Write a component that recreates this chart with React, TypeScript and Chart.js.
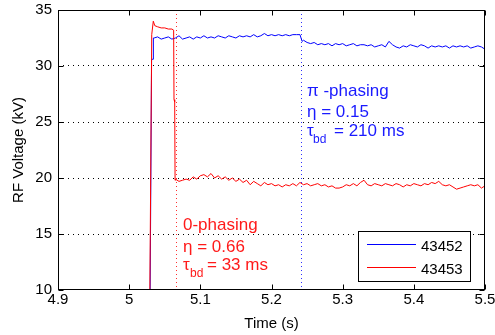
import React, { useEffect, useRef } from "react";
import { Chart, registerables } from "chart.js";

Chart.register(...registerables);

// ---------- data ----------
const xTickValues = [4.9, 5.0, 5.1, 5.2, 5.3, 5.4, 5.5];
const yTickValues = [10, 15, 20, 25, 30, 35];

const seriesNames = ["43452", "43453"];

// shot 43452 (blue, pi-phasing)
const blueT = [
  5.029, 5.0315, 5.0338, 5.034,
  5.035, 5.04, 5.045, 5.05, 5.055, 5.06, 5.065, 5.07, 5.075, 5.08,
  5.085, 5.09, 5.095, 5.1, 5.105, 5.11, 5.115, 5.12, 5.125, 5.13,
  5.135, 5.14, 5.145, 5.15, 5.155, 5.16, 5.165, 5.17, 5.175, 5.18,
  5.185, 5.19, 5.195, 5.2, 5.205, 5.21, 5.215, 5.22, 5.225, 5.23,
  5.235, 5.24,
  5.243,
  5.245, 5.25, 5.255, 5.26, 5.265, 5.27, 5.275, 5.28, 5.285, 5.29,
  5.295, 5.3, 5.305, 5.31, 5.315, 5.32, 5.325, 5.33, 5.335, 5.34,
  5.345, 5.35, 5.355, 5.36, 5.365, 5.37, 5.375, 5.38, 5.385, 5.39,
  5.395, 5.4, 5.405, 5.41, 5.415, 5.42, 5.425, 5.43, 5.435, 5.44,
  5.445, 5.45, 5.455, 5.46, 5.465, 5.47, 5.475, 5.48, 5.485, 5.49,
  5.495, 5.5,
];
const blueV = [
  5, 30.6, 30.6, 32.5,
  32.5, 32.6, 32.4, 32.5, 32.6, 32.4, 32.5, 32.7, 32.4, 32.5,
  32.6, 32.4, 32.6, 32.5, 32.7, 32.5, 32.6, 32.5, 32.7, 32.6,
  32.5, 32.7, 32.6, 32.5, 32.7, 32.6, 32.7, 32.6, 32.8, 32.6,
  32.7, 32.9, 32.7, 32.8, 32.7, 32.8, 32.7, 32.8, 32.7, 32.8,
  32.8, 32.8,
  32.2,
  32.3, 32.1, 32.0, 32.1, 31.9, 32.0, 31.9, 32.0, 31.8, 32.0,
  31.9, 32.0, 31.8, 31.9, 32.0, 31.8, 31.9, 31.9, 31.8, 31.9,
  31.7, 31.8, 31.9, 31.7, 32.2, 31.9, 31.7, 31.6, 31.8, 31.7,
  31.9, 31.8, 31.7, 31.9, 31.8, 31.6, 31.8, 31.7, 31.8, 31.7,
  31.8, 31.6, 31.8, 31.7, 31.8, 31.7, 31.8, 31.6, 31.7, 31.8,
  31.7, 31.5,
];

// shot 43453 (red, 0-phasing)
const redT = [
  5.0285, 5.0317, 5.0339, 5.036, 5.04, 5.045, 5.05, 5.055, 5.06, 5.0625,
  5.063, 5.064, 5.0645,
  5.065, 5.07, 5.075, 5.08, 5.085, 5.09, 5.095, 5.1, 5.105, 5.11,
  5.115, 5.12, 5.125, 5.13, 5.135, 5.14, 5.145, 5.15, 5.155, 5.16,
  5.165, 5.17, 5.175, 5.18, 5.185, 5.19, 5.195, 5.2, 5.205, 5.21,
  5.215, 5.22, 5.225, 5.23, 5.235, 5.24, 5.245, 5.25, 5.255, 5.26,
  5.265, 5.27, 5.275, 5.28, 5.285, 5.29, 5.295, 5.3, 5.305, 5.31,
  5.315, 5.32, 5.325, 5.33, 5.335, 5.34, 5.345, 5.35, 5.355, 5.36,
  5.365, 5.37, 5.375, 5.38, 5.385, 5.39, 5.395, 5.4, 5.405, 5.41,
  5.415, 5.42, 5.425, 5.43, 5.435, 5.44, 5.445, 5.45, 5.455, 5.46,
  5.465, 5.47, 5.475, 5.48, 5.485, 5.49, 5.495, 5.5,
];
const redV = [
  5, 32.8, 34.0, 33.6, 33.5, 33.4, 33.4, 33.3, 33.3, 33.2,
  27.0, 26.8, 19.8,
  19.9, 19.7, 19.8, 19.9, 19.8, 20.1, 19.9, 20.2, 20.3, 20.1,
  20.4, 20.0, 20.2, 19.9, 20.1, 19.8, 20.0, 19.7, 19.9, 19.6,
  19.8, 19.4, 19.7, 19.5, 19.3, 19.6, 19.4, 19.5, 19.3, 19.4,
  19.2, 19.4, 19.3, 19.5, 19.3, 19.6, 19.4, 19.5, 19.3, 19.4,
  19.5, 19.3, 19.4, 19.2, 19.3, 19.1, 19.1, 19.2, 19.4, 19.3,
  19.5, 19.3, 19.6, 19.8, 19.4, 19.3, 19.5, 19.4, 19.3, 19.5,
  19.4, 19.3, 19.5, 19.4, 19.2, 19.4, 19.3, 19.5, 19.4, 19.3,
  19.5, 19.4, 19.6, 19.5, 19.7, 19.4, 19.3, 19.4, 19.2, 19.0,
  19.1, 19.2, 19.3, 19.4, 19.3, 19.4, 19.1, 19.3,
];

// breakdown-time markers (s)
const redMarkerT = 5.066;
const blueMarkerT = 5.242;

const blueNote = ["π -phasing", "η = 0.15", "= 210 ms"];
const redNote = ["0-phasing", "η = 0.66", "= 33 ms"];

// ---------- styles ----------
const FONT = '"Liberation Sans", Arial, Helvetica, sans-serif';
const BLUE = "#0000ff";
const RED = "#ff0000";

const toPoints = (t: number[], v: number[]) => t.map((x, i) => ({ x, y: v[i] }));

const markers = {
  id: "markers",
  afterDatasetsDraw(chart: any) {
    const { ctx, chartArea: a, scales } = chart;
    const xs = scales.x;
    ctx.save();
    ctx.lineWidth = 1;
    ctx.setLineDash([1, 3]);
    [
      { t: redMarkerT, c: "#ff3030" },
      { t: blueMarkerT, c: "#3030ff" },
    ].forEach((m) => {
      const px = Math.round(xs.getPixelForValue(m.t)) + 0.5;
      ctx.strokeStyle = m.c;
      ctx.beginPath();
      ctx.moveTo(px, a.top);
      ctx.lineTo(px, a.bottom);
      ctx.stroke();
    });
    ctx.restore();
  },
};

const overlay = {
  id: "overlay",
  afterDraw(chart: any) {
    const { ctx, chartArea: a, scales } = chart;
    const xs = scales.x;
    const ys = scales.y;
    ctx.save();
    ctx.strokeStyle = "#000";
    ctx.lineWidth = 1;
    const L = Math.round(a.left) + 0.5;
    const R = Math.round(a.right) - 0.5;
    const T = Math.round(a.top) + 0.5;
    const B = Math.round(a.bottom) - 0.5;
    ctx.strokeRect(L, T, R - L, B - T);
    ctx.beginPath();
    xs.ticks.forEach((t: any) => {
      const px = Math.round(xs.getPixelForValue(t.value)) + 0.5;
      ctx.moveTo(px, T);
      ctx.lineTo(px, T + 5);
      ctx.moveTo(px, B);
      ctx.lineTo(px, B - 5);
    });
    ys.ticks.forEach((t: any) => {
      const py = Math.round(ys.getPixelForValue(t.value)) + 0.5;
      ctx.moveTo(L, py);
      ctx.lineTo(L + 5, py);
      ctx.moveTo(R, py);
      ctx.lineTo(R - 5, py);
    });
    ctx.stroke();

    // annotations
    const note = (lines: string[], color: string, x0: number, b: number[], subDx: number, restDx: number) => {
      ctx.fillStyle = color;
      ctx.textAlign = "left";
      ctx.textBaseline = "alphabetic";
      ctx.font = `17px ${FONT}`;
      ctx.fillText(lines[0], x0, b[0]);
      ctx.fillText(lines[1], x0, b[1]);
      ctx.fillText("τ", x0, b[2]);
      ctx.fillText(lines[2], x0 + restDx, b[2]);
      ctx.font = `12px ${FONT}`;
      ctx.fillText("bd", x0 + subDx, b[2] + 7);
    };
    note(blueNote, "#1a1aff", 307, [96, 117, 136], 6, 27);
    note(redNote, "#ff1a1a", 183, [230, 252, 270], 7, 24);

    // legend
    const lx = 358.5, ly = 231.5, lw = 112, lh = 50;
    ctx.fillStyle = "#fff";
    ctx.fillRect(lx, ly, lw, lh);
    ctx.strokeStyle = "#000";
    ctx.strokeRect(lx, ly, lw, lh);
    const rows = [
      { name: seriesNames[0], color: BLUE, y: 244.5 },
      { name: seriesNames[1], color: RED, y: 267.5 },
    ];
    ctx.font = `15px ${FONT}`;
    rows.forEach((r) => {
      ctx.strokeStyle = r.color;
      ctx.beginPath();
      ctx.moveTo(367, r.y);
      ctx.lineTo(416, r.y);
      ctx.stroke();
      ctx.fillStyle = "#000";
      ctx.fillText(r.name, 421, r.y + 6.5);
    });
    ctx.restore();
  },
};

export default function App() {
  const ref = useRef<HTMLCanvasElement>(null);
  useEffect(() => {
    document.body.style.margin = "0";
    const chart = new Chart(ref.current as HTMLCanvasElement, {
      type: "line",
      data: {
        datasets: [
          {
            label: seriesNames[1],
            data: toPoints(redT, redV),
            borderColor: RED,
            borderWidth: 1,
            pointRadius: 0,
            tension: 0,
            order: 1,
          },
          {
            label: seriesNames[0],
            data: toPoints(blueT, blueV),
            borderColor: BLUE,
            borderWidth: 1,
            pointRadius: 0,
            tension: 0,
            order: 2,
          },
        ],
      },
      options: {
        responsive: false,
        animation: false,
        events: [],
        layout: { padding: { top: 10, right: 10, left: 0, bottom: 0 } },
        plugins: { legend: { display: false }, tooltip: { enabled: false } },
        scales: {
          x: {
            type: "linear",
            min: 4.9,
            max: 5.5,
            afterBuildTicks: (s: any) => {
              s.ticks = xTickValues.map((value) => ({ value }));
            },
            afterFit: (s: any) => {
              s.height = 45;
              s.paddingLeft = 0;
              s.paddingRight = 0;
            },
            grid: { display: false, drawTicks: false },
            border: { display: false },
            ticks: {
              color: "#000",
              font: { family: FONT, size: 15 },
              padding: 1,
              maxRotation: 0,
              autoSkip: false,
              callback: (v: any) => String(Math.round(Number(v) * 10) / 10),
            },
            title: {
              display: true,
              text: "Time (s)",
              color: "#000",
              font: { family: FONT, size: 15 },
              padding: { top: 0, bottom: 2 },
            },
          },
          y: {
            type: "linear",
            min: 10,
            max: 35,
            afterBuildTicks: (s: any) => {
              s.ticks = yTickValues.map((value) => ({ value }));
            },
            afterFit: (s: any) => {
              s.width = 58;
              s.paddingTop = 0;
              s.paddingBottom = 0;
            },
            grid: {
              drawTicks: false,
              lineWidth: 1,
              color: (c: any) =>
                c.tick && (c.tick.value === 10 || c.tick.value === 35) ? "rgba(0,0,0,0)" : "#000",
            },
            border: { display: false, dash: [1, 4] },
            ticks: {
              color: "#000",
              font: { family: FONT, size: 15 },
              padding: 6,
              autoSkip: false,
            },
            title: {
              display: true,
              text: "RF Voltage (kV)",
              color: "#000",
              font: { family: FONT, size: 15 },
              padding: { top: 10, bottom: 0 },
            },
          },
        },
      },
      plugins: [markers, overlay],
    } as any);
    return () => chart.destroy();
  }, []);
  return (
    <div style={{ width: 495, height: 335, background: "#fff" }}>
      <canvas ref={ref} width={495} height={335} style={{ display: "block" }} />
    </div>
  );
}
